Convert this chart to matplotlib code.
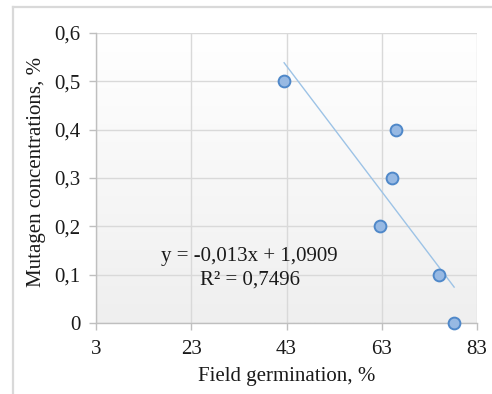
import numpy as np
import matplotlib
matplotlib.use("Agg")
import matplotlib.pyplot as plt
from matplotlib.lines import Line2D
from matplotlib.colors import LinearSegmentedColormap

# Data
germination = [42.5, 65.9, 65.1, 62.6, 75.1, 78.2]
concentration = [0.5, 0.4, 0.3, 0.2, 0.1, 0.0]
trend_coef = [-0.013, 1.0909]
x_ticks = [3, 23, 43, 63, 83]
y_ticks = [0, 0.1, 0.2, 0.3, 0.4, 0.5, 0.6]
y_tick_labels = ["0", "0,1", "0,2", "0,3", "0,4", "0,5", "0,6"]
equation_text = "y = -0,013x + 1,0909"
r2_text = "R² = 0,7496"

plt.rcParams['font.family'] = ['Liberation Serif', 'DejaVu Serif']
FS = 15

W, H = 492, 394
fig = plt.figure(figsize=(W / 100, H / 100), dpi=100)
ax = fig.add_axes([96 / W, 1 - 323 / H, (477 - 96) / W, (323 - 33) / H])

# gradient background: white at top, light grey at bottom
grad = np.linspace(1, 0, 256).reshape(-1, 1)
cmap = LinearSegmentedColormap.from_list("bg", ["#ffffff", "#efefef"])
ax.imshow(grad, aspect='auto', cmap=cmap, extent=[3, 83, 0, 0.6], origin='lower',
          zorder=0)

ax.set_xlim(3, 83)
ax.set_ylim(0, 0.6)
ax.set_xticks(x_ticks)
ax.set_yticks(y_ticks)
ax.set_yticklabels(y_tick_labels)
ax.grid(True, color="#d9d9d9", linewidth=1.0, zorder=1)
ax.set_axisbelow(True)

for s in ['top', 'right']:
    ax.spines[s].set_visible(False)
for s in ['left', 'bottom']:
    ax.spines[s].set_color("#bfbfbf")
    ax.spines[s].set_linewidth(1.0)

ax.tick_params(axis='both', colors="#bfbfbf", labelcolor="#1a1a1a", labelsize=FS,
               length=5, width=1.0, direction='out')
ax.tick_params(axis='x', pad=7)
ax.tick_params(axis='y', pad=6)

# trendline
xs = np.array([min(germination), max(germination)])
ax.plot(xs, trend_coef[0] * xs + trend_coef[1], color="#9dc3e6", linewidth=1.0, zorder=3)

ax.scatter(germination, concentration, s=72, facecolor="#97b9e3", edgecolor="#4f88c9",
           linewidth=1.4, zorder=4, clip_on=False)

fig.text(249.5 / W, 1 - 257 / H, equation_text, ha='center', va='center',
         fontsize=FS, color="#1a1a1a")
fig.text(250 / W, 1 - 280 / H, r2_text, ha='center', va='center',
         fontsize=FS, color="#1a1a1a")

fig.text(286.5 / W, 1 - 376 / H, "Field germination, %", ha='center', va='center',
         fontsize=FS, color="#1a1a1a")
fig.text(37 / W, 1 - 172 / H, "Mutagen concentrations, %", ha='center', va='center',
         rotation=90, fontsize=FS, color="#1a1a1a")

# outer frame (cropped chart border)
fig.add_artist(Line2D([12.5 / W, 12.5 / W], [0, 1 - 7 / H], transform=fig.transFigure,
                      color="#d9d9d9", linewidth=1.6))
fig.add_artist(Line2D([12.5 / W, 1], [1 - 7 / H, 1 - 7 / H], transform=fig.transFigure,
                      color="#d9d9d9", linewidth=1.6))

fig.savefig("out.png", dpi=100)
